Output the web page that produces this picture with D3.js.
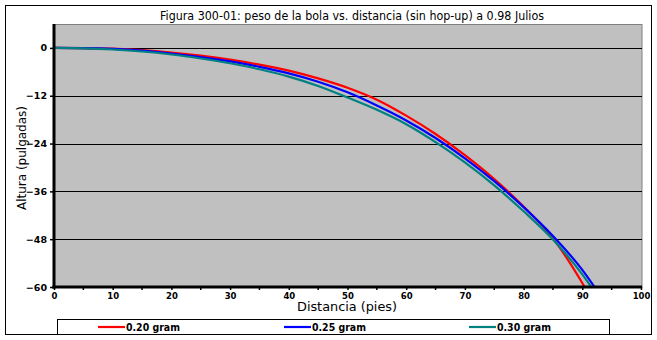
<!DOCTYPE html>
<html>
<head>
<meta charset="utf-8">
<script src="https://cdn.jsdelivr.net/npm/d3@7"></script>
<style>
  html, body { margin: 0; padding: 0; background: #fff; }
  svg { display: block; }
  text { font-family: "DejaVu Sans", Verdana, sans-serif; fill: #000; }
</style>
</head>
<body>
<svg id="chart" width="657" height="340"></svg>
<script>
// ---- data ----
const title = "Figura 300-01: peso de la bola vs. distancia (sin hop-up) a 0.98 Julios";
const xLabel = "Distancia (pies)";
const yLabel = "Altura (pulgadas)";
const seriesNames = ["0.20 gram", "0.25 gram", "0.30 gram"];
const seriesColors = ["#FF0000", "#0000FF", "#008080"];
const distances = [0, 5, 10, 15, 20, 25, 30, 35, 40, 45, 50, 55, 60, 65, 70, 75, 80, 85, 90, 93];
const heights020 = [0, -0.05, -0.2, -0.55, -1.15, -1.95, -2.95, -4.2, -5.7, -7.65, -10.0, -13.0, -17.0, -21.6, -26.9, -32.9, -39.8, -47.8, -59.0, -66.8];
const heights025 = [0, -0.05, -0.25, -0.7, -1.4, -2.3, -3.4, -4.75, -6.4, -8.5, -11.15, -14.45, -18.2, -22.6, -27.7, -33.45, -39.95, -47.2, -55.7, -62.0];
const heights030 = [0, -0.1, -0.4, -0.9, -1.65, -2.65, -3.85, -5.35, -7.2, -9.55, -12.45, -15.55, -19.15, -23.65, -28.75, -34.5, -41.0, -48.1, -56.85, -63.2];
const xTicks = [0, 10, 20, 30, 40, 50, 60, 70, 80, 90, 100];
const xMinorTicks = [5, 15, 25, 35, 45, 55, 65, 75, 85, 95];
const yTicks = [0, -12, -24, -36, -48, -60];

const series = [heights020, heights025, heights030].map((h, i) => ({
  name: seriesNames[i], color: seriesColors[i],
  values: distances.map((d, j) => ({ x: d, y: h[j] }))
}));

// ---- layout ----
const svg = d3.select("#chart");
const plot = { left: 54, right: 642, top: 24, bottom: 287 };

const x = d3.scaleLinear().domain([0, 100]).range([plot.left, plot.right - 1]);
const y = d3.scaleLinear().domain([-60, 6]).range([plot.bottom, plot.top]);

// outer border
svg.append("rect").attr("x", 5.5).attr("y", 5.5).attr("width", 646).attr("height", 329)
  .attr("fill", "#fff").attr("stroke", "#000").attr("stroke-width", 1);

// title
svg.append("text").attr("x", 352).attr("y", 20).attr("text-anchor", "middle")
  .attr("font-size", 12.5).attr("textLength", 384).attr("lengthAdjust", "spacingAndGlyphs")
  .text(title);

// plot area
svg.append("rect").attr("x", plot.left).attr("y", plot.top + 0.5)
  .attr("width", plot.right - plot.left).attr("height", plot.bottom - plot.top)
  .attr("fill", "#C0C0C0").attr("stroke", "#808080").attr("stroke-width", 1);

// gridlines
svg.append("g").selectAll("line").data(yTicks.filter(t => t > -60)).join("line")
  .attr("x1", plot.left).attr("x2", plot.right)
  .attr("y1", d => Math.round(y(d)) + 0.5).attr("y2", d => Math.round(y(d)) + 0.5)
  .attr("stroke", "#000").attr("stroke-width", 1).attr("shape-rendering", "crispEdges");

// clip
svg.append("clipPath").attr("id", "clip").append("rect")
  .attr("x", plot.left).attr("y", plot.top).attr("width", plot.right - plot.left).attr("height", plot.bottom - plot.top);

const line = d3.line().x(d => x(d.x)).y(d => y(d.y)).curve(d3.curveMonotoneX);
svg.append("g").attr("clip-path", "url(#clip)").selectAll("path").data(series).join("path")
  .attr("d", d => line(d.values)).attr("fill", "none")
  .attr("stroke", d => d.color).attr("stroke-width", 2.2);

// axes
const yAxis = d3.axisLeft(y).tickValues(yTicks).tickSize(4).tickPadding(3).tickFormat(d3.format("d"));
const yg = svg.append("g").attr("transform", `translate(${plot.left},0)`).call(yAxis);
yg.select(".domain").remove();
yg.selectAll("line").attr("stroke", "#000").attr("stroke-width", 1.5);
yg.selectAll("text").attr("font-size", 9.5).attr("font-weight", "bold")
  .attr("font-family", '"DejaVu Sans", Verdana, sans-serif');

const xAxis = d3.axisBottom(x).tickValues(xTicks).tickSize(3).tickPadding(3).tickFormat(d3.format("d"));
const xg = svg.append("g").attr("transform", `translate(0,${plot.bottom})`).call(xAxis);
xg.select(".domain").remove();
xg.selectAll("line").attr("stroke", "#000").attr("stroke-width", 1.5);
xg.selectAll("text").attr("font-size", 8.5).attr("font-weight", "bold")
  .attr("font-family", '"DejaVu Sans", Verdana, sans-serif');
svg.append("g").selectAll("line").data(xMinorTicks).join("line")
  .attr("x1", d => x(d)).attr("x2", d => x(d)).attr("y1", plot.bottom).attr("y2", plot.bottom + 3)
  .attr("stroke", "#000").attr("stroke-width", 1.5);

// thick axis lines
svg.append("line").attr("x1", plot.left).attr("x2", plot.left).attr("y1", plot.top).attr("y2", plot.bottom + 1.5)
  .attr("stroke", "#000").attr("stroke-width", 3);
svg.append("line").attr("x1", plot.left - 1.5).attr("x2", plot.right).attr("y1", plot.bottom).attr("y2", plot.bottom)
  .attr("stroke", "#000").attr("stroke-width", 3);

// axis titles
svg.append("text").attr("x", 347).attr("y", 311).attr("text-anchor", "middle")
  .attr("font-size", 12).attr("textLength", 100).attr("lengthAdjust", "spacingAndGlyphs").text(xLabel);
svg.append("text").attr("transform", "translate(26,158) rotate(-90)").attr("text-anchor", "middle")
  .attr("font-size", 12).attr("textLength", 104).attr("lengthAdjust", "spacingAndGlyphs").text(yLabel);

// legend
svg.append("rect").attr("x", 57.5).attr("y", 319.5).attr("width", 552).attr("height", 15)
  .attr("fill", "#fff").attr("stroke", "#000").attr("stroke-width", 1);
const legendX = [98, 284, 469];
const lg = svg.append("g").selectAll("g").data(series).join("g")
  .attr("transform", (d, i) => `translate(${legendX[i]},327)`);
lg.append("line").attr("x1", 0).attr("x2", 27).attr("stroke", d => d.color).attr("stroke-width", 2.2);
lg.append("text").attr("x", 28).attr("y", 4).attr("font-size", 10).attr("font-weight", "bold")
  .attr("textLength", 54).attr("lengthAdjust", "spacingAndGlyphs").text(d => d.name);
</script>
</body>
</html>
